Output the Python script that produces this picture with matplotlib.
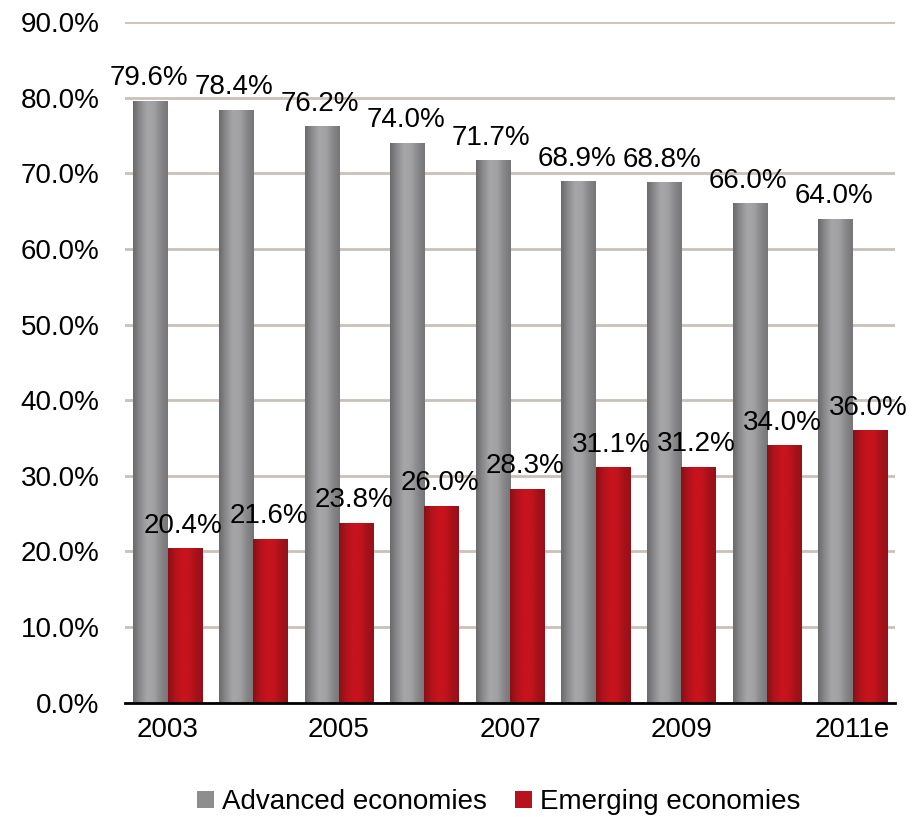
import numpy as np
import matplotlib.pyplot as plt
from matplotlib.colors import LinearSegmentedColormap
from matplotlib.patches import Patch

plt.rcParams['font.family'] = ['Liberation Sans', 'DejaVu Sans']

years = ['2003', '2004', '2005', '2006', '2007', '2008', '2009', '2010', '2011e']
advanced = [79.6, 78.4, 76.2, 74.0, 71.7, 68.9, 68.8, 66.0, 64.0]
emerging = [20.4, 21.6, 23.8, 26.0, 28.3, 31.1, 31.2, 34.0, 36.0]

grey_cm = LinearSegmentedColormap.from_list('g', ['#6a6a6c', '#8c8c8e', '#a6a6a9', '#a2a2a5', '#88888a', '#767678'])
red_cm = LinearSegmentedColormap.from_list('r', ['#8a1016', '#b0131b', '#c8141e', '#c4141d', '#a81219', '#94111a'])

fig = plt.figure(figsize=(9.24, 8.17), dpi=100)
ax = fig.add_axes([0.135, 0.14, 0.834, 0.833])

x = np.arange(len(years))
w = 0.4
grad = np.linspace(0, 1, 64).reshape(1, -1)

def gradient_bars(xs, vals, cmap):
    bars = ax.bar(xs, vals, width=w, color='none', edgecolor='none', zorder=3)
    for b in bars:
        x0 = b.get_x()
        ax.imshow(grad, cmap=cmap, aspect='auto', extent=(x0, x0 + w, 0, b.get_height()),
                  zorder=3, interpolation='bicubic')
    return bars

gradient_bars(x - w / 2, advanced, grey_cm)
gradient_bars(x + w / 2, emerging, red_cm)

fs = 20
for i in range(len(years)):
    ax.text(x[i] - w / 2 - 0.02, advanced[i] + 1.3, f'{advanced[i]:.1f}%', ha='center', va='bottom', fontsize=fs, zorder=4)
    ax.text(x[i] + w / 2 - 0.02, emerging[i] + 1.3, f'{emerging[i]:.1f}%', ha='center', va='bottom', fontsize=fs, zorder=4)

ax.set_xlim(-0.5, len(years) - 0.5)
ax.set_ylim(0, 90)
ax.set_yticks(np.arange(0, 91, 10))
ax.set_yticklabels([f'{v:.1f}%' for v in range(0, 91, 10)], fontsize=fs)
ax.set_xticks(x[::2])
ax.set_xticklabels(years[::2], fontsize=fs)
ax.tick_params(length=0, pad=10)
ax.tick_params(axis='y', pad=18)
ax.grid(axis='y', color='#c9c1ba', linewidth=2, zorder=0)
ax.set_axisbelow(True)
for s in ['top', 'right', 'left']:
    ax.spines[s].set_visible(False)
ax.spines['bottom'].set_linewidth(2)
ax.spines['bottom'].set_zorder(5)

handles = [Patch(facecolor='#8e8e90', label='Advanced economies'),
           Patch(facecolor='#b8131c', label='Emerging economies')]
fig.legend(handles=handles, loc='center', bbox_to_anchor=(0.54, 0.018), ncol=2, frameon=False,
           fontsize=fs, handlelength=0.6, handleheight=0.6, handletextpad=0.3, columnspacing=1.0)

fig.savefig('out.png', dpi=100)
